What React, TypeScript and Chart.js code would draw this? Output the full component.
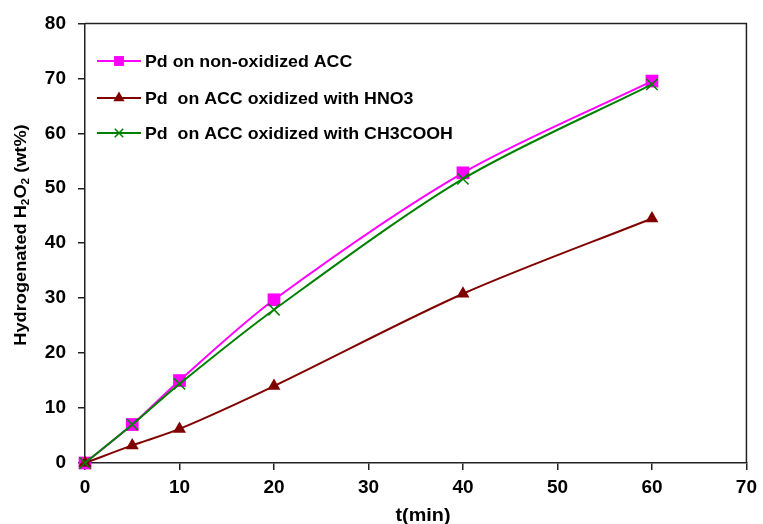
import React, { useEffect, useRef } from 'react';
import { Chart, registerables } from 'chart.js';

Chart.register(...registerables);

const times = [0, 5, 10, 20, 40, 60];
const nonOxidized = [0, 7, 15, 29.7, 52.8, 69.5];
const hno3 = [0, 3.2, 6.2, 14, 30.8, 44.5];
const ch3cooh = [0, 7, 14.4, 27.9, 51.7, 68.9];
const seriesLabels = [
  'Pd on non-oxidized ACC',
  'Pd  on ACC oxidized with HNO3',
  'Pd  on ACC oxidized with CH3COOH',
];
const seriesColors = ['#FF00FF', '#800000', '#008000'];
const seriesMarkers = ['rect', 'triangle', 'crossRot'];
const xTitle = 't(min)';
const yTitleParts = [
  { t: 'Hydrogenated H', sub: false },
  { t: '2', sub: true },
  { t: 'O', sub: false },
  { t: '2', sub: true },
  { t: ' (wt%)', sub: false },
];

const FONT = 'Arial, "Liberation Sans", sans-serif';

function drawMarker(ctx: CanvasRenderingContext2D, kind: string, x: number, y: number, r: number, color: string) {
  ctx.save();
  ctx.fillStyle = color;
  ctx.strokeStyle = color;
  if (kind === 'rect') {
    const s = r * Math.SQRT1_2;
    ctx.fillRect(x - s, y - s, 2 * s, 2 * s);
  } else if (kind === 'triangle') {
    ctx.beginPath();
    for (let k = 0; k < 3; k++) {
      const a = (k * 2 * Math.PI) / 3;
      const px = x + Math.sin(a) * r;
      const py = y - Math.cos(a) * r;
      if (k === 0) ctx.moveTo(px, py);
      else ctx.lineTo(px, py);
    }
    ctx.closePath();
    ctx.fill();
  } else {
    const o = r * Math.SQRT1_2;
    ctx.lineWidth = 1.5;
    ctx.beginPath();
    ctx.moveTo(x - o, y - o);
    ctx.lineTo(x + o, y + o);
    ctx.moveTo(x - o, y + o);
    ctx.lineTo(x + o, y - o);
    ctx.stroke();
  }
  ctx.restore();
}

function stretchedText(ctx: CanvasRenderingContext2D, text: string, x: number, y: number, sx: number) {
  ctx.save();
  ctx.translate(x, y);
  ctx.scale(sx, 1);
  ctx.fillText(text, 0, 0);
  ctx.restore();
}

const decorPlugin = {
  id: 'decor',
  afterDraw(chart: any) {
    const ctx: CanvasRenderingContext2D = chart.ctx;
    const a = chart.chartArea;
    ctx.save();
    // frame top/right
    ctx.strokeStyle = '#222';
    ctx.lineWidth = 1.5;
    ctx.beginPath();
    ctx.moveTo(a.left, a.top);
    ctx.lineTo(a.right, a.top);
    ctx.lineTo(a.right, a.bottom);
    ctx.stroke();

    // legend
    const rows = [61, 98, 133];
    const legendSizes = [7, 6.5, 6];
    ctx.font = `bold 17px ${FONT}`;
    ctx.textBaseline = 'middle';
    ctx.textAlign = 'left';
    chart.data.datasets.forEach((ds: any, i: number) => {
      const y = rows[i];
      ctx.strokeStyle = seriesColors[i];
      ctx.lineWidth = 2;
      ctx.beginPath();
      ctx.moveTo(97, y);
      ctx.lineTo(141, y);
      ctx.stroke();
      drawMarker(ctx, seriesMarkers[i], 119, y, legendSizes[i], seriesColors[i]);
      ctx.fillStyle = '#000';
      stretchedText(ctx, ds.label, 145, y + 1, 1.045);
    });

    // x title
    ctx.font = `bold 18px ${FONT}`;
    ctx.textAlign = 'center';
    ctx.textBaseline = 'middle';
    ctx.fillStyle = '#000';
    stretchedText(ctx, xTitle, 423, 516, 1.1);

    // y title with subscripts
    ctx.translate(21, 235);
    ctx.rotate(-Math.PI / 2);
    ctx.scale(1.07, 1);
    const mainFont = `bold 17px ${FONT}`;
    const subFont = `bold 11px ${FONT}`;
    let total = 0;
    const widths = yTitleParts.map((p) => {
      ctx.font = p.sub ? subFont : mainFont;
      const w = ctx.measureText(p.t).width;
      total += w;
      return w;
    });
    let cx = -total / 2;
    ctx.textAlign = 'left';
    yTitleParts.forEach((p, i) => {
      ctx.font = p.sub ? subFont : mainFont;
      ctx.fillText(p.t, cx, p.sub ? 5 : 0);
      cx += widths[i];
    });
    ctx.restore();
  },
};

export default function App() {
  const ref = useRef<HTMLCanvasElement>(null);
  useEffect(() => {
    document.body.style.margin = '0';
    const toPts = (ys: number[]) => times.map((t, i) => ({ x: t, y: ys[i] }));
    const values = [nonOxidized, hno3, ch3cooh];
    const radii = [9, 7.5, 8];
    const orders = [2, 1, 0];
    const chart = new Chart(ref.current!, {
      type: 'line',
      data: {
        datasets: values.map((v, i) => ({
          label: seriesLabels[i],
          data: toPts(v),
          borderColor: seriesColors[i],
          backgroundColor: seriesColors[i],
          pointBackgroundColor: seriesColors[i],
          pointBorderColor: seriesColors[i],
          pointStyle: seriesMarkers[i] as any,
          pointRadius: radii[i],
          pointBorderWidth: i === 2 ? 1.5 : 0,
          borderWidth: 2,
          tension: 0.3,
          fill: false,
          clip: false as any,
          order: orders[i],
        })),
      },
      options: {
        responsive: false,
        animation: false,
        events: [],
        layout: { padding: { top: 23, right: 15, left: 0, bottom: 0 } },
        plugins: { legend: { display: false }, tooltip: { enabled: false } },
        scales: {
          x: {
            type: 'linear',
            min: 0,
            max: 70,
            ticks: { stepSize: 10, color: '#000', padding: 6, font: { family: FONT, size: 19, weight: 'bold' } },
            grid: { drawOnChartArea: false, tickLength: 7, color: '#222', lineWidth: 1.5 },
            border: { color: '#222', width: 1.5 },
            afterFit: (s: any) => { s.height = 61; },
          },
          y: {
            type: 'linear',
            min: 0,
            max: 80,
            ticks: { stepSize: 10, color: '#000', padding: 12, font: { family: FONT, size: 19, weight: 'bold' } },
            grid: { drawOnChartArea: false, tickLength: 7, color: '#222', lineWidth: 1.5 },
            border: { color: '#222', width: 1.5 },
            afterFit: (s: any) => { s.width = 85; },
          },
        },
      },
      plugins: [decorPlugin],
    });
    return () => chart.destroy();
  }, []);
  return <canvas ref={ref} width={763} height={524} style={{ display: 'block' }} />;
}
